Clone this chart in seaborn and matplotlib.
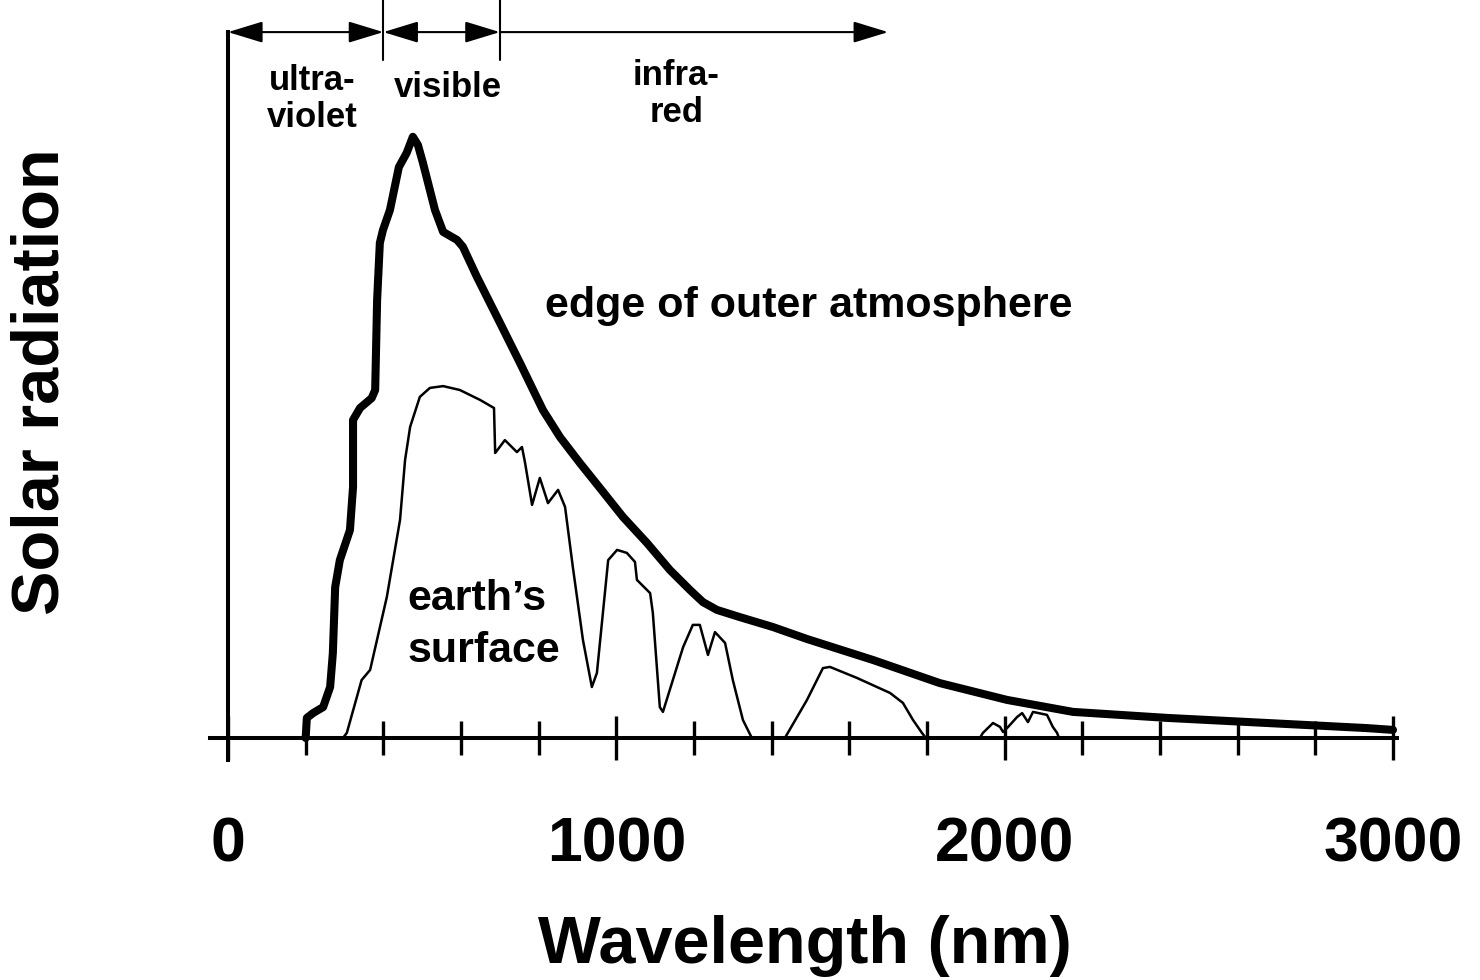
"""
Solar radiation spectrum: top of atmosphere vs. earth's surface.
"""

import pandas as pd
import matplotlib.pyplot as plt
import seaborn as sns

# === 1. Data (relative units) ===
outer_nm = [200, 203, 219, 245, 263, 270, 276, 288, 314, 322, 322, 340, 370, 379,
            384, 391, 399, 417, 440, 460, 476, 489, 502, 533, 554, 590, 605, 641,
            693, 752, 811, 855, 906, 958, 1017, 1079, 1138, 1190, 1223, 1259,
            1318, 1403, 1491, 1661, 1833, 2006, 2176, 2418, 2676, 2933, 3000]
outer_val = [0.0, 0.067, 0.083, 0.103, 0.17, 0.283, 0.503, 0.593, 0.693, 0.837,
             1.06, 1.10, 1.133, 1.16, 1.46, 1.65, 1.693, 1.76, 1.903, 1.95, 2.004,
             1.977, 1.917, 1.76, 1.687, 1.66, 1.637, 1.537, 1.403, 1.25,
             1.093, 1.003, 0.917, 0.833, 0.737, 0.65, 0.56, 0.493, 0.453, 0.427,
             0.403, 0.37, 0.33, 0.26, 0.183, 0.127, 0.087, 0.067, 0.05, 0.033,
             0.027]

surface_nm = [296, 306, 344, 366, 409, 443, 456, 469, 494, 520, 554, 597, 649, 685,
              688, 713, 744, 757, 765, 783, 803, 824, 850, 868, 888, 914, 937, 950,
              979, 1002, 1027, 1048, 1053, 1087, 1094, 1112, 1120, 1164, 1172, 1197,
              1215, 1236, 1254, 1280, 1300, 1326, 1349, 1434, 1491, 1532, 1550, 1620,
              1705, 1738, 1764, 1787, 1797, 1936, 1944, 1970, 1988, 1996, 2009, 2032,
              2045, 2060, 2073, 2109, 2124, 2135, 2140]
surface_val = [0.0, 0.017, 0.193, 0.227, 0.47, 0.727, 0.927, 1.037, 1.137, 1.167,
               1.173, 1.16, 1.127, 1.10, 0.95, 0.993, 0.953, 0.97, 0.917, 0.777,
               0.867, 0.783, 0.827, 0.77, 0.57, 0.327, 0.17, 0.217, 0.593, 0.627,
               0.617, 0.587, 0.527, 0.483, 0.417, 0.103, 0.087, 0.27, 0.303, 0.377,
               0.377, 0.277, 0.353, 0.317, 0.193, 0.06, 0.0, 0.0, 0.127, 0.233,
               0.237, 0.2, 0.15, 0.117, 0.06, 0.017, 0.0, 0.0, 0.017, 0.05, 0.037,
               0.02, 0.037, 0.07, 0.083, 0.053, 0.087, 0.077, 0.037, 0.017, 0.0]

tick_pos = [0, 1000, 2000, 3000]
tick_labels = ["0", "1000", "2000", "3000"]
minor_pos = [200, 400, 600, 800, 1200, 1400, 1600, 1800,
             2200, 2400, 2600, 2800]

band_edges = [0, 400, 700, 1700]
band_names = ["ultra-\nviolet", "visible", "infra-\nred"]
band_label_x = [216, 567, 1154]
band_label_y = [2.037, 2.137, 2.053]   # baseline of the last line

outer_df = pd.DataFrame({"nm": outer_nm, "val": outer_val})
surface_df = pd.DataFrame({"nm": surface_nm, "val": surface_val})

# === 2. Style ===
sns.set_theme(style="white")
plt.rcParams["font.family"] = ["Liberation Sans", "DejaVu Sans"]
plt.rcParams["font.weight"] = "bold"
plt.rcParams["text.color"] = "black"
plt.rcParams["axes.labelcolor"] = "black"
plt.rcParams["xtick.color"] = "black"

fig = plt.figure(figsize=(14.8, 9.8), dpi=100)
ax = fig.add_axes([150 / 1480, 180 / 980, 1300 / 1480, 800 / 980])
ax.set_facecolor("white")

# === 3. Curves ===
sns.lineplot(data=outer_df, x="nm", y="val", ax=ax, color="black", lw=5.8,
             estimator=None, sort=False, solid_capstyle="round",
             solid_joinstyle="round")
sns.lineplot(data=surface_df, x="nm", y="val", ax=ax, color="black", lw=1.8,
             estimator=None, sort=False)

ax.set_xlim(-200.86, 3146.8)
ax.set_ylim(-0.20667, 2.46)

# === 4. Axes ===
for side in ["top", "right"]:
    ax.spines[side].set_visible(False)
ax.spines["left"].set_position(("data", 0))
ax.spines["bottom"].set_position(("data", 0))
ax.spines["left"].set_bounds(-0.073, 2.353)
ax.spines["bottom"].set_bounds(-46, 3010)
for side in ["left", "bottom"]:
    ax.spines[side].set_color("black")
    ax.spines[side].set_linewidth(2.9)

ax.set_yticks([])
ax.set_xticks(tick_pos, tick_labels)
ax.set_xticks(minor_pos, minor=True)
ax.tick_params(axis="x", which="major", direction="inout", length=31, width=2.4,
               color="black", pad=40, labelsize=45, labelcolor="black", bottom=True)
ax.tick_params(axis="x", which="minor", direction="inout", length=25, width=2.4,
               color="black", bottom=True)
for lab in ax.get_xticklabels():
    lab.set_fontweight("bold")

ax.set_xlabel("Wavelength (nm)", fontsize=48, fontweight="bold", color="black")
ax.xaxis.set_label_coords(0.5038, -0.20375)
ax.xaxis.label.set_va("baseline")
ax.set_ylabel("Solar radiation", fontsize=48, fontweight="bold", color="black")
ax.yaxis.set_label_coords(-0.0831, 0.5225)
ax.yaxis.label.set_va("center")

# === 5. Spectral band markers ===
arrow_y = 2.353
for x0, x1, style in [(band_edges[0], band_edges[1], "<|-|>"),
                      (band_edges[1], band_edges[2], "<|-|>"),
                      (band_edges[2], band_edges[3], "-|>")]:
    ax.annotate("", xy=(x1, arrow_y), xytext=(x0, arrow_y),
                arrowprops=dict(arrowstyle=f"{style},head_length=1.08,head_width=0.33",
                                mutation_scale=20, color="black", lw=1.5,
                                shrinkA=0, shrinkB=0),
                annotation_clip=False)
for edge in band_edges[1:3]:
    ax.plot([edge, edge], [2.26, 2.46], color="black", lw=1.5, clip_on=False)

for name, x, y in zip(band_names, band_label_x, band_label_y):
    ax.text(x, y, name, ha="center", va="baseline", fontsize=25,
            fontweight="bold", linespacing=1.15, color="black")

ax.text(816, 1.403, "edge of outer atmosphere", ha="left", va="baseline",
        fontsize=31, fontweight="bold", color="black")
ax.text(463, 0.253, "earth\u2019s\nsurface", ha="left", va="baseline",
        fontsize=31, fontweight="bold", linespacing=1.4, color="black")

fig.savefig("out.png", dpi=100, facecolor="white")
plt.close(fig)
